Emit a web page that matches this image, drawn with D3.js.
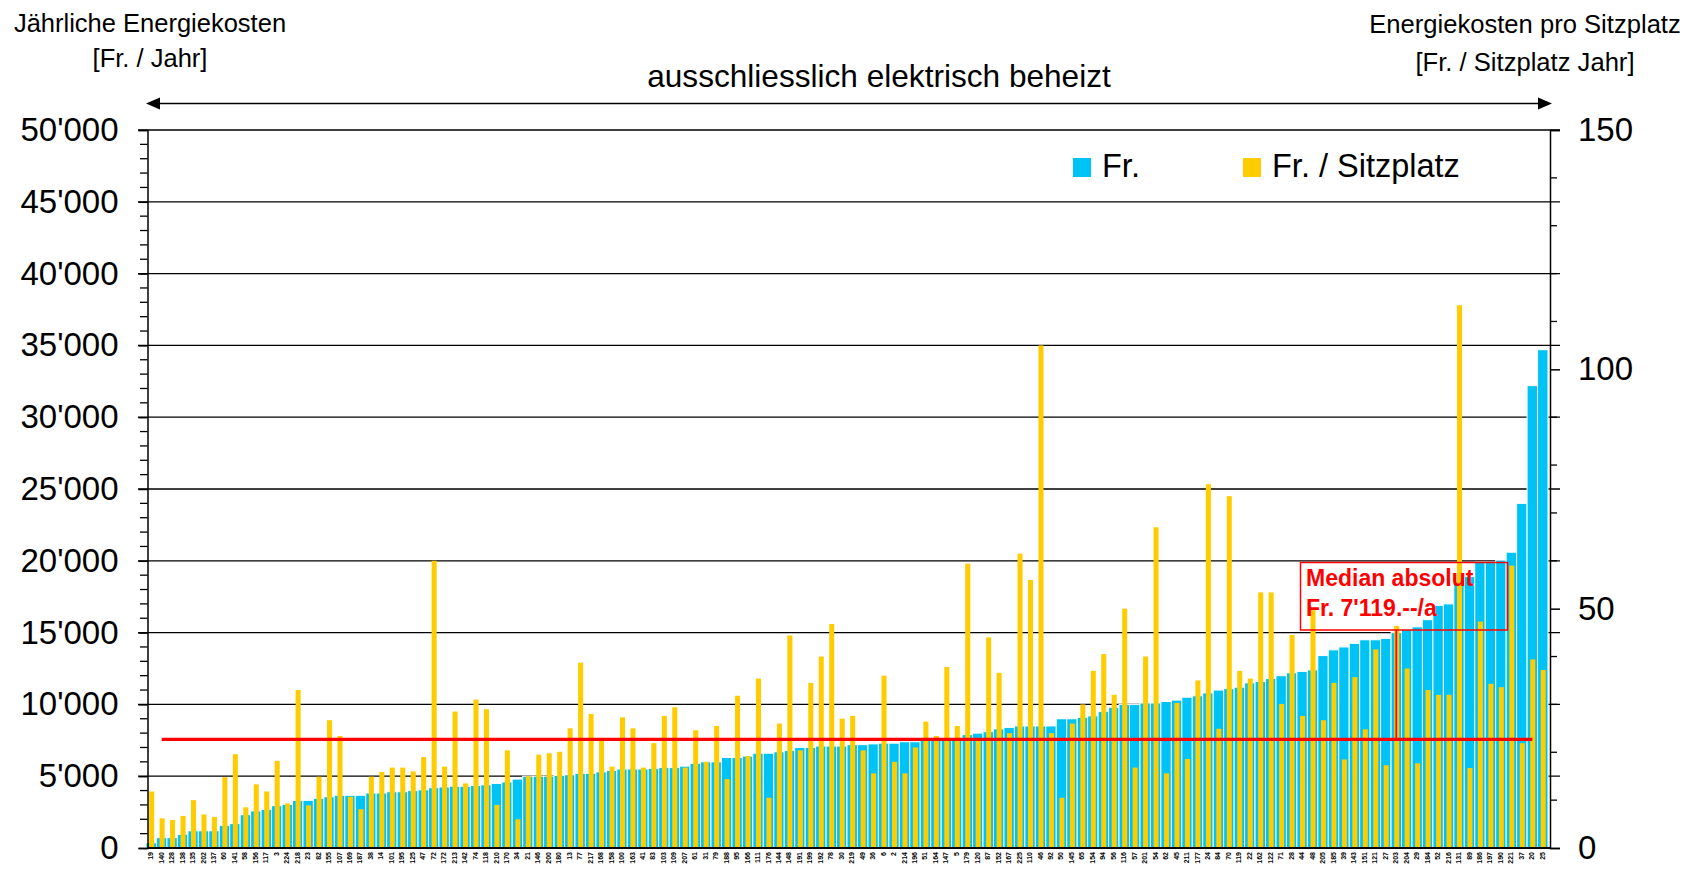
<!DOCTYPE html>
<html><head><meta charset="utf-8">
<script src="https://cdnjs.cloudflare.com/ajax/libs/d3/7.8.5/d3.min.js"></script>
<style>body{margin:0;background:#fff;} svg{display:block;font-family:Arial,"Liberation Sans",sans-serif;}</style>
</head><body><svg id="c" width="1705" height="874"></svg>
<script>
const categories = ["19","140","128","138","135","202","137","60","141","58","156","117","3","224","218","23","82","155","107","169","187","38","14","101","195","125","47","72","172","213","142","74","118","210","170","34","21","146","200","180","13","77","217","168","158","100","163","41","83","103","109","207","61","31","79","188","95","166","111","176","144","148","191","199","192","78","30","219","49","36","6","2","214","196","51","164","147","5","179","120","87","152","167","225","110","46","92","50","145","65","154","94","56","116","57","201","54","62","45","211","177","24","84","70","119","22","162","122","71","28","44","48","205","185","39","143","151","121","27","203","204","29","184","52","216","131","89","186","197","190","221","37","20","25"];
const costFr = [370,720,720,950,1200,1200,1200,1580,1700,2320,2580,2690,2950,3040,3320,3320,3460,3570,3670,3670,3670,3830,3830,3920,3920,4000,4050,4200,4250,4300,4300,4350,4400,4500,4600,4800,5000,5000,5000,5050,5100,5200,5200,5300,5400,5500,5500,5500,5550,5600,5600,5700,5900,6000,6000,6300,6300,6400,6600,6600,6700,6800,7000,7000,7100,7100,7100,7200,7200,7250,7300,7300,7400,7400,7500,7500,7600,7600,7900,8000,8100,8300,8400,8500,8500,8500,8500,9000,9000,9100,9200,9500,9800,10000,10000,10100,10100,10200,10300,10500,10600,10800,11000,11100,11200,11500,11600,11800,12000,12200,12300,12400,13400,13800,14000,14250,14500,14500,14600,15000,15200,15400,15900,16900,17000,18500,18900,19900,19900,20050,20600,24000,32200,34700];
const costSeat = [11.8,6.2,5.85,6.7,10.0,7.0,6.5,14.8,19.6,8.5,13.3,11.8,18.2,9.3,33.0,8.9,14.9,26.7,23.4,10.7,8.1,14.9,15.9,16.8,16.8,16,19,60,17,28.5,13.5,31,29,9,20.4,6,15,19.5,19.8,20.1,25,38.7,28,22.5,17,27.3,25,16.8,21.9,27.6,29.4,16.8,24.6,18,25.5,14.4,31.8,19.2,35.4,10.5,26,44.4,20.4,34.5,40,46.8,27,27.6,20.4,15.6,36,18,15.6,21,26.4,23.4,37.8,25.5,59.4,22.5,44,36.6,24,61.5,56,105,24,10.5,26,30,37,40.5,32,50,16.8,40,67,15.6,30.3,18.6,35,76,24.9,73.5,37,35.4,53.4,53.4,30.1,44.5,27.6,49.7,26.7,34.5,18.5,35.7,24.8,41.5,17.3,46.4,37.5,17.7,33,32,32,113.4,16.7,47.3,34.3,33.6,59,21.9,39.4,37.2];
const leftTicks = [0,5000,10000,15000,20000,25000,30000,35000,40000,45000,50000];
const rightTicks = [0,50,100,150];
const medianLineValue = 7570;
const medianCategoryIndex = 119;
const seriesNames = ["Fr.","Fr. / Sitzplatz"];
const titleLeft = ["Jährliche Energiekosten","[Fr. / Jahr]"];
const titleRight = ["Energiekosten pro Sitzplatz","[Fr. / Sitzplatz Jahr]"];
const arrowLabel = "ausschliesslich elektrisch beheizt";
const medianLabel = ["Median absolut","Fr. 7'119.--/a"];

const BLUE="#00c3f5", YELLOW="#ffcc00", RED="#ff0000";
const svg = d3.select("#c");
const L=147.5, R=1550, T=130, B=848;
const x = d3.scaleBand().domain(d3.range(categories.length)).range([146,1548]).padding(0);
const yL = d3.scaleLinear().domain([0,50000]).range([B,T]);
const yR = d3.scaleLinear().domain([0,150]).range([B,T]);
const fmt = d3.formatLocale({decimal:".",thousands:"'",grouping:[3],currency:["",""]}).format(",");
const bw = x.bandwidth();

// gridlines
svg.append("g").selectAll("line").data(leftTicks.filter(d=>d>0)).join("line")
  .attr("x1",138).attr("x2",1560).attr("y1",d=>yL(d)).attr("y2",d=>yL(d))
  .attr("stroke","#000").attr("stroke-width",1.3);

// bars
svg.append("g").selectAll("rect").data(costFr).join("rect")
  .attr("x",(d,i)=>x(i)).attr("width",bw)
  .attr("y",d=>yL(d)).attr("height",d=>B-yL(d))
  .attr("fill",BLUE).attr("stroke","#fff").attr("stroke-width",1);
svg.append("g").selectAll("rect").data(costSeat).join("rect")
  .attr("x",(d,i)=>x(i)+0.3*bw).attr("width",0.48*bw)
  .attr("y",d=>yR(d)).attr("height",d=>B-yR(d))
  .attr("fill",YELLOW);

// axes
const gl = svg.append("g").attr("transform",`translate(${L},0)`)
  .call(d3.axisLeft(yL).tickValues(leftTicks).tickFormat(fmt).tickSize(9).tickPadding(20));
const gr = svg.append("g").attr("transform",`translate(${R},0)`)
  .call(d3.axisRight(yR).tickValues(rightTicks).tickSize(10).tickPadding(18));
[gl,gr].forEach(g=>{
  g.select(".domain").attr("stroke","#000").attr("stroke-width",1.5);
  g.selectAll(".tick line").attr("stroke","#000").attr("stroke-width",1.5);
  g.selectAll(".tick text").attr("font-size",33).attr("fill","#000").attr("font-family","Arial, 'Liberation Sans', sans-serif");
});
// minor ticks
const minorL = d3.range(0,50001,1000).filter(d=>d%5000!==0);
svg.append("g").selectAll("line").data(minorL).join("line")
  .attr("x1",140).attr("x2",L).attr("y1",d=>yL(d)).attr("y2",d=>yL(d)).attr("stroke","#000").attr("stroke-width",1.3);
const minorR = d3.range(0,151,10).filter(d=>d%50!==0);
svg.append("g").selectAll("line").data(minorR).join("line")
  .attr("x1",R).attr("x2",R+7).attr("y1",d=>yR(d)).attr("y2",d=>yR(d)).attr("stroke","#000").attr("stroke-width",1.3);
// bottom axis line
svg.append("line").attr("x1",L).attr("x2",R).attr("y1",B).attr("y2",B).attr("stroke","#000").attr("stroke-width",2);

// category labels
svg.append("g").selectAll("text").data(categories).join("text")
  .attr("transform",(d,i)=>`translate(${x(i)+bw/2+2},${852}) rotate(-90)`)
  .attr("text-anchor","end").attr("font-size",7).attr("font-weight","bold").attr("fill","#000").text(d=>d);

// median line
svg.append("line").attr("x1",x(1)+bw/2).attr("x2",x(categories.length-2)+bw/2)
  .attr("y1",yL(medianLineValue)).attr("y2",yL(medianLineValue)).attr("stroke",RED).attr("stroke-width",3.2);
const mx = x(medianCategoryIndex)+bw/2;
svg.append("line").attr("x1",mx).attr("x2",mx).attr("y1",630).attr("y2",yL(medianLineValue)).attr("stroke",RED).attr("stroke-width",1.8);
svg.append("rect").attr("x",1300.5).attr("y",562.5).attr("width",207).attr("height",67.5)
  .attr("fill","none").attr("stroke",RED).attr("stroke-width",1.5);
svg.append("g").selectAll("text").data(medianLabel).join("text")
  .attr("x",1306).attr("y",(d,i)=>586+i*30).attr("font-size",23).attr("font-weight","bold").attr("fill",RED).text(d=>d);

// titles
svg.append("g").selectAll("text").data(titleLeft).join("text")
  .attr("x",150).attr("y",(d,i)=>32+i*35).attr("text-anchor","middle").attr("font-size",25.5).attr("fill","#000").text(d=>d);
svg.append("g").selectAll("text").data(titleRight).join("text")
  .attr("x",1525).attr("y",(d,i)=>33+i*38).attr("text-anchor","middle").attr("font-size",25.6).attr("fill","#000").text(d=>d);

// arrow
const ay=103.5;
svg.append("line").attr("x1",155).attr("x2",1543).attr("y1",ay).attr("y2",ay).attr("stroke","#000").attr("stroke-width",1.5);
svg.append("path").attr("d",`M146,${ay} L160,${ay-6} L160,${ay+6} Z`).attr("fill","#000");
svg.append("path").attr("d",`M1552,${ay} L1538,${ay-6} L1538,${ay+6} Z`).attr("fill","#000");
svg.append("text").attr("x",879).attr("y",87).attr("text-anchor","middle").attr("font-size",31.6).attr("fill","#000").text(arrowLabel);

// legend
const leg = [{c:BLUE,x:1073,t:seriesNames[0]},{c:YELLOW,x:1243,t:seriesNames[1]}];
leg.forEach(l=>{
  svg.append("rect").attr("x",l.x).attr("y",158).attr("width",18).attr("height",19).attr("fill",l.c);
  svg.append("text").attr("x",l.x+29).attr("y",177).attr("font-size",32.5).attr("fill","#000").text(l.t);
});
</script></body></html>
